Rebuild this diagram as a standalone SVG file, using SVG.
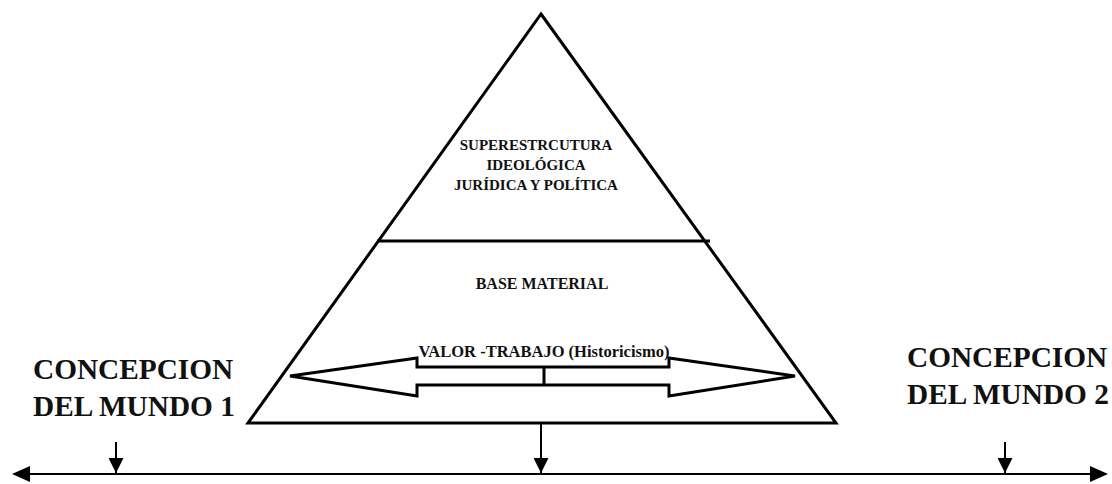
<svg xmlns="http://www.w3.org/2000/svg" width="1112" height="484" viewBox="0 0 1112 484">
<style>
  text { font-family: "Liberation Serif", "Times New Roman", serif; font-weight: bold; fill: #111; }
  .big { font-size: 29.3px; }
  .mid { font-size: 16px; text-anchor: middle; }
  .val { font-size: 16.5px; text-anchor: middle; }
  .sm { font-size: 15px; text-anchor: middle; }
  .ln { stroke: #000; fill: none; }
</style>
<defs>
  <marker id="ahs" viewBox="0 0 10 10" refX="10" refY="5" markerWidth="15" markerHeight="15" markerUnits="userSpaceOnUse" orient="auto">
    <path d="M0,0 L10,5 L0,10 z" fill="#000"/>
  </marker>
</defs>
<rect width="1112" height="484" fill="#fff"/>
<g id="pyramid">
  <path class="ln" d="M541,14 L836,423 L248,423 Z" stroke-width="3" stroke-linejoin="miter"/>
  <line class="ln" x1="377" y1="241" x2="710" y2="241" stroke-width="3"/>
</g>
<g id="superestructura">
  <text class="sm" x="536" y="150">SUPERESTRCUTURA</text>
  <text class="sm" x="536" y="170">IDEOLÓGICA</text>
  <text class="sm" x="536" y="190">JURÍDICA Y POLÍTICA</text>
</g>
<g id="base-material">
  <text class="mid" x="542" y="289">BASE MATERIAL</text>
</g>
<g id="valor-trabajo">
  <path class="ln" d="M290,376 L417,358 L417,367 L669,367 L669,358 L795,376 L669,396 L669,385 L417,385 L417,396 Z" stroke-width="3" fill="#fff"/>
  <line class="ln" x1="544" y1="367" x2="544" y2="385" stroke-width="3"/>
  <text class="val" x="544" y="357">VALOR -TRABAJO (Historicismo)</text>
</g>
<g id="concepcion1">
  <text class="big" x="33" y="379">CONCEPCION</text>
  <text class="big" x="33" y="416">DEL MUNDO 1</text>
</g>
<g id="concepcion2">
  <text class="big" x="907" y="367">CONCEPCION</text>
  <text class="big" x="907" y="404">DEL MUNDO 2</text>
</g>
<g id="connectors">
  <line class="ln" x1="30" y1="474" x2="1090" y2="474" stroke-width="2"/>
  <path d="M12,474 L30,466 L30,482 Z" fill="#000"/>
  <path d="M1108,474 L1090,466 L1090,482 Z" fill="#000"/>
  <line class="ln" x1="116" y1="442" x2="116" y2="473" stroke-width="2" marker-end="url(#ahs)"/>
  <line class="ln" x1="541" y1="423" x2="541" y2="473" stroke-width="2" marker-end="url(#ahs)"/>
  <line class="ln" x1="1005" y1="442" x2="1005" y2="473" stroke-width="2" marker-end="url(#ahs)"/>
</g>
</svg>
